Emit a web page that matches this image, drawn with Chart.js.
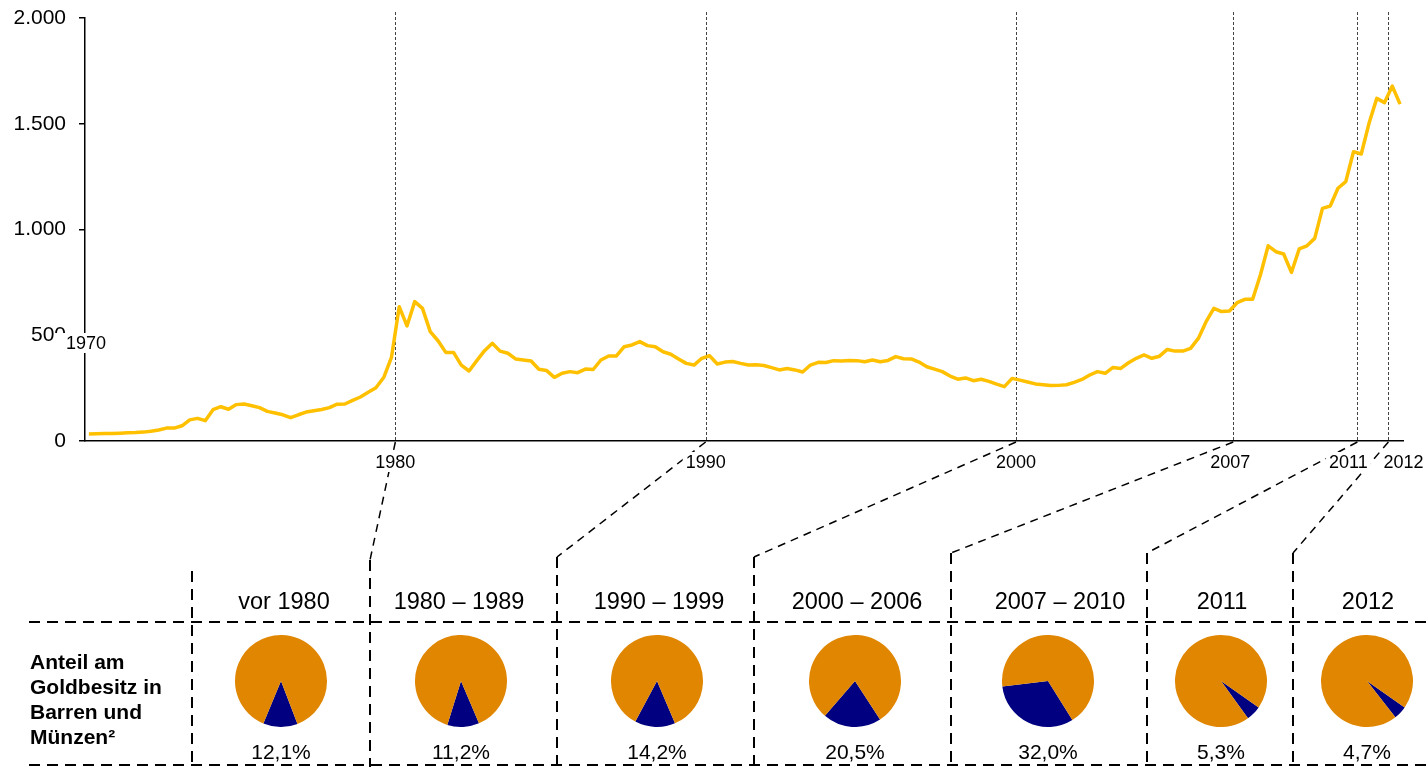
<!DOCTYPE html>
<html><head><meta charset="utf-8">
<script src="https://cdn.jsdelivr.net/npm/chart.js@4.4.1/dist/chart.umd.min.js"></script>
<style>
html,body{margin:0;padding:0;background:#fff;}
#wrap{position:relative;width:1428px;height:767px;overflow:hidden;font-family:'Liberation Sans',Arial,sans-serif;color:#000;}
#main{position:absolute;left:0;top:0;}
.pie{position:absolute;}
.t{position:absolute;white-space:nowrap;transform:translateX(-50%);}
.hdr{font-size:23.5px;line-height:23.5px;}
.pct{font-size:21px;line-height:21px;}
#rowlabel{position:absolute;left:30px;top:649px;font-weight:bold;font-size:21px;line-height:25px;}
</style></head><body>
<div id="wrap"><canvas id="main" width="1428" height="767"></canvas></div>
<script>
// ---- data (quarterly gold price, USD/oz, starting 1970 Q1) ----
const startYear = 1970;
const gold1970s = [33,34,35,35,37,39,40,42,46,52,61,61,72,100,107,96,148,162,150,172,175,167,158,140,132,124,110,124,137,143,149,158,174,175,192,208,230,252,300,395];
const gold1980s = [635,544,659,627,517,474,419,419,359,331,380,427,462,425,415,388,383,378,339,333,301,320,328,323,340,338,383,402,402,446,454,470,451,446,422,410,388,367,359,391];
const gold1990s = [403,364,373,376,367,359,361,357,347,336,343,336,326,359,372,371,380,378,381,380,375,383,375,381,399,389,388,373,351,340,328,307,292,298,285,292,282,269,257,296];
const gold2000s = [288,279,270,266,262,263,266,277,291,312,328,320,348,343,370,391,407,391,401,433,425,425,438,485,564,627,612,615,654,670,670,785,923,895,884,797,908,923,958,1100];
const gold2010s = [1111,1195,1226,1368,1357,1502,1620,1600,1678,1593];
const yTicks = [0,500,1000,1500,2000];
const markerYears = [1980,1990,2000,2007,2011,2012];
const startLabel = '1970';
const periods = ['vor 1980','1980 – 1989','1990 – 1999','2000 – 2006','2007 – 2010','2011','2012'];
const barShare = [12.1,11.2,14.2,20.5,32.0,5.3,4.7];
const rowLabel = ['Anteil am','Goldbesitz in','Barren und','Münzen²'];

// ---- layout / style ----
const colX = [192,370,557,754,951,1147,1293];
const colTop = [571,560,557,557,553,553,553];
const pieCX = [281,461,657,855,1048,1221,1367];
const hdrCX = [284,459,659,857,1060,1222,1368];
const pieRot = [159,157,157,147,148,125,125];
const labelNudge = [0,0,0,-3,-9,15];
const GOLD = '#FFC000', ORANGE = '#E08600', NAVY = '#000080';
const FONT = "'Liberation Sans', Arial, sans-serif";
Chart.defaults.font.family = FONT;
Chart.defaults.color = '#000';

const allGold = [].concat(gold1970s, gold1980s, gold1990s, gold2000s, gold2010s);
const points = allGold.map((v,i)=>({x: startYear + (i + 0.5)/4, y: v}));

const overlay = {
  id: 'overlay',
  beforeDraw(chart){
    const ctx = chart.ctx, xs = chart.scales.x;
    ctx.save();
    ctx.strokeStyle = '#000';
    ctx.lineWidth = 1.5; ctx.setLineDash([8,6]);
    markerYears.forEach((yr,k)=>{
      const x0 = xs.getPixelForValue(yr);
      ctx.beginPath(); ctx.moveTo(x0, chart.chartArea.bottom + 1); ctx.lineTo(colX[k+1], colTop[k+1]); ctx.stroke();
    });
    ctx.lineWidth = 2; ctx.setLineDash([11,7]);
    [622,765].forEach(y=>{ ctx.beginPath(); ctx.moveTo(29,y); ctx.lineTo(1428,y); ctx.stroke(); });
    colX.forEach((x,k)=>{ ctx.beginPath(); ctx.moveTo(x,colTop[k]); ctx.lineTo(x,767); ctx.stroke(); });
    ctx.restore();
  },
  beforeDatasetsDraw(chart){
    const ctx = chart.ctx, xs = chart.scales.x, a = chart.chartArea;
    ctx.save();
    ctx.strokeStyle = '#444'; ctx.lineWidth = 1; ctx.setLineDash([3,2]);
    markerYears.forEach(yr=>{
      const x = Math.round(xs.getPixelForValue(yr)) + 0.5;
      ctx.beginPath(); ctx.moveTo(x, 12); ctx.lineTo(x, a.bottom); ctx.stroke();
    });
    ctx.restore();
  },
  afterDraw(chart){
    const ctx = chart.ctx, xs = chart.scales.x;
    ctx.save();
    ctx.font = '18px ' + FONT;
    ctx.textAlign = 'center'; ctx.textBaseline = 'middle';
    const lab = (txt, x, y, padL, padR) => {
      const w = ctx.measureText(txt).width;
      ctx.fillStyle = '#fff';
      ctx.fillRect(x - w/2 - padL, y - 10, w + padL + padR, 20);
      ctx.fillStyle = '#000';
      ctx.fillText(txt, x, y + 1);
    };
    markerYears.forEach((yr,k)=> lab(String(yr), xs.getPixelForValue(yr) + labelNudge[k], 462, 3, 3));
    lab(startLabel, xs.getPixelForValue(startYear) + 1, 343, 11, 2);
    ctx.restore();
  }
};

new Chart(document.getElementById('main'), {
  type: 'line',
  data: { datasets: [{ data: points, borderColor: GOLD, borderWidth: 3.5, pointRadius: 0, fill: false, tension: 0, borderJoinStyle: 'round' }] },
  options: {
    responsive: false, animation: false, events: [],
    layout: { padding: { top: 18, right: 25, left: 0, bottom: 0 } },
    plugins: { legend: { display: false }, tooltip: { enabled: false } },
    scales: {
      x: { type: 'linear', min: 1970, max: 2012.47,
           grid: { display: true, drawOnChartArea: false, drawTicks: false },
           ticks: { display: false },
           border: { display: true, color: '#000', width: 1.5 },
           afterFit: s => { s.height = 326; s.paddingLeft = 0; s.paddingRight = 0; } },
      y: { min: 0, max: 2000,
           afterBuildTicks: s => { s.ticks = yTicks.map(v=>({value:v})); },
           ticks: { font: { size: 21 }, color: '#000', padding: 13, callback: v => v.toLocaleString('de-DE') },
           grid: { display: true, drawOnChartArea: false, drawTicks: true, tickLength: 6, color: '#000', lineWidth: 1.5 },
           border: { display: true, color: '#000', width: 1.5 },
           afterFit: s => { s.width = 85; s.paddingTop = 0; s.paddingBottom = 0; } }
    }
  },
  plugins: [overlay]
});

// ---- table texts and pies ----
const wrap = document.getElementById('wrap');
periods.forEach((p,k)=>{
  const d = document.createElement('div');
  d.className = 't hdr'; d.textContent = p;
  d.style.left = hdrCX[k] + 'px'; d.style.top = (602 - 11.75) + 'px';
  wrap.appendChild(d);
  const q = document.createElement('div');
  q.className = 't pct'; q.textContent = barShare[k].toFixed(1).replace('.', ',') + '%';
  q.style.left = pieCX[k] + 'px'; q.style.top = (751 - 10.5) + 'px';
  wrap.appendChild(q);
  const c = document.createElement('canvas');
  c.className = 'pie'; c.width = 92; c.height = 92;
  c.style.left = (pieCX[k] - 46) + 'px'; c.style.top = (681 - 46) + 'px';
  wrap.appendChild(c);
  new Chart(c, {
    type: 'pie',
    data: { labels: ['Barren und Münzen','Übrige'], datasets: [{ data: [barShare[k], 100 - barShare[k]], backgroundColor: [NAVY, ORANGE], borderWidth: 0 }] },
    options: { responsive: false, animation: false, events: [], rotation: pieRot[k],
      layout: { padding: 0 }, plugins: { legend: { display: false }, tooltip: { enabled: false } } }
  });
});
const rl = document.createElement('div');
rl.id = 'rowlabel';
rl.innerHTML = rowLabel.join('<br>');
wrap.appendChild(rl);
</script>
</body></html>
